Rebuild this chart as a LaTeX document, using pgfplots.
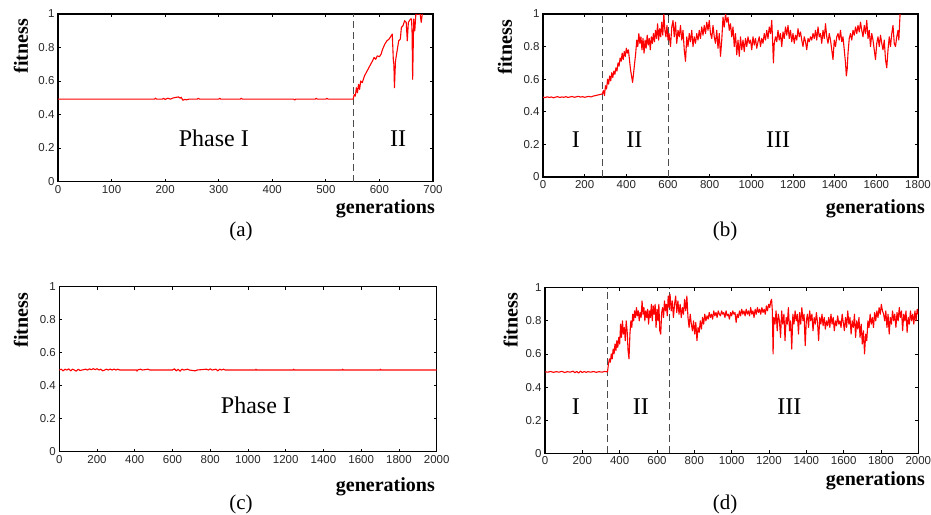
\documentclass[border=0pt]{standalone}
\usepackage{pgfplots}
\pgfplotsset{compat=1.18}
\usepackage{fontspec}
\setmainfont{Liberation Serif}
\newfontfamily\tickfont{Liberation Sans}
\pgfplotsset{panel/.style={
  scale only axis, xmin=0, ymin=0, ymax=1,
  ytick={0,0.2,0.4,0.6,0.8,1},
  yticklabels={0,0.2,0.4,0.6,0.8,1},
  axis line style={line width=1.5bp},
  tick style={black, line width=0.8bp},
  major tick length=3bp, tick align=inside,
  xtick pos=both, ytick pos=both,
  ticklabel style={font=\tickfont\fontsize{11.5bp}{13bp}\selectfont, text=black!85},
  /pgf/number format/assume math mode=true,
  /pgf/number format/1000 sep={},
  clip=true,
  },
  fit/.style={red, line width=1.1bp, line join=round},
  phase/.style={black!70, line width=0.8bp, dash pattern=on 7bp off 4bp},
}
\newcommand{\lab}{\fontsize{20bp}{24bp}\selectfont\bfseries}
\newcommand{\capt}{\fontsize{21bp}{25bp}\selectfont}
\newcommand{\ph}{\fontsize{24bp}{28bp}\selectfont}
\begin{document}
\begin{tikzpicture}
\useasboundingbox (0,0) rectangle (931bp,-515bp);
% ---------- (a)
\begin{axis}[panel, at={(58bp,-181.5bp)}, anchor=south west, width=375bp, height=167.5bp,
  xmax=700, xtick={0,100,...,700}]
\addplot[phase] coordinates {(551,0) (551,1)};
\addplot[fit] coordinates {
(0,0.492)(180,0.492)(182,0.498)(184,0.492)(195,0.492)(197,0.497)(200,0.49)(205,0.497)(210,0.492)
(215,0.499)(220,0.502)(225,0.505)(228,0.498)(230,0.503)(233,0.485)(236,0.49)(240,0.488)(245,0.492)
(260,0.492)(262,0.497)(264,0.492)(300,0.492)(302,0.497)(304,0.492)(340,0.492)(342,0.497)(344,0.492)
(440,0.492)(442,0.487)(444,0.492)(480,0.492)(482,0.497)(484,0.492)(500,0.492)(502,0.497)(504,0.492)
(551,0.492)(553,0.52)(555,0.51)(557,0.56)(559,0.53)(561,0.58)(563,0.55)(565,0.6)(568,0.59)(572,0.63)
(577,0.66)(582,0.69)(587,0.72)(590,0.74)(593,0.73)(596,0.75)(600,0.745)(603,0.76)(606,0.79)(610,0.82)
(614,0.84)(618,0.85)(622,0.87)(624,0.88)(626,0.72)(627,0.70)(628,0.56)(630,0.72)(633,0.78)(636,0.84)
(639,0.85)(641,0.92)(644,0.93)(647,0.96)(650,0.95)(652,0.84)(654,0.95)(656,0.96)(658,0.97)(660,0.97)
(661,0.88)(662,0.61)(664,0.97)(666,0.90)(668,1.0)(672,1.0)(676,1.0)(678,0.95)(680,1.0)};
\node[font=\ph] at (axis cs:291,0.256) {Phase I};
\node[font=\ph] at (axis cs:635,0.256) {II};
\end{axis}
\node[rotate=90, font=\lab] at (21bp,-46bp) {fitness};
\node[anchor=base east, font=\lab, inner sep=0pt] at (435bp,-213bp) {generations};
\node[anchor=base, font=\capt, inner sep=0pt] at (241bp,-236bp) {(a)};
% ---------- (b)
\begin{axis}[panel, at={(543bp,-177bp)}, anchor=south west, width=375bp, height=163bp,
  xmax=1800, xtick={0,200,...,1800}]
\addplot[phase] coordinates {(285,0) (285,1)};
\addplot[phase] coordinates {(600,0) (600,1)};
\addplot[fit] coordinates {
(0,0.49)(10,0.487)(20,0.492)(30,0.488)(40,0.491)(50,0.486)(60,0.49)(70,0.493)(80,0.488)(90,0.491)
(100,0.489)(110,0.493)(120,0.488)(130,0.491)(140,0.494)(150,0.489)(160,0.492)(170,0.495)(180,0.49)
(190,0.493)(200,0.489)(210,0.492)(220,0.495)(230,0.491)(240,0.496)(250,0.499)(260,0.502)(270,0.505)
(280,0.508)(285,0.51)
(290,0.53)(295,0.5)(300,0.56)(305,0.54)(310,0.6)(315,0.57)(320,0.62)(325,0.59)(330,0.64)(335,0.61)
(340,0.65)(345,0.63)(350,0.67)(355,0.65)(360,0.7)(365,0.68)(370,0.73)(375,0.71)(380,0.76)(385,0.72)
(390,0.77)(395,0.74)(400,0.79)(405,0.76)(410,0.78)(415,0.72)(420,0.66)(425,0.62)(430,0.58)(435,0.64)
(440,0.7)(445,0.76)(450,0.84)(455,0.8)(460,0.88)(465,0.82)(470,0.86)(475,0.78)(480,0.85)(485,0.76)
(490,0.84)(495,0.79)(500,0.87)(505,0.81)(510,0.85)(515,0.78)(520,0.86)(525,0.82)(530,0.88)(535,0.83)
(540,0.9)(545,0.85)(550,0.94)(555,0.84)(560,0.91)(565,0.86)(570,0.95)(575,0.87)(580,1.0)(585,0.9)
(590,0.86)(595,0.93)(600,0.84)
(605,0.88)(612,0.8)(618,0.92)(624,0.96)(630,0.86)(636,0.95)(642,0.82)(648,0.9)(654,0.86)(660,0.93)
(666,0.84)(672,0.9)(678,0.78)(684,0.71)(690,0.86)(696,0.8)(702,0.88)(708,0.83)(714,0.9)(720,0.8)
(726,0.86)(732,0.82)(738,0.88)(744,0.84)(750,0.9)(756,0.85)(762,0.92)(768,0.87)(774,0.93)(780,0.88)
(786,0.95)(792,0.9)(798,0.96)(804,0.88)(810,0.85)(816,0.93)(822,0.86)(828,0.82)(834,0.9)(840,0.79)
(846,0.88)(852,0.74)(858,0.84)(864,0.98)(870,0.92)(876,1.0)(882,0.95)(888,0.98)(894,0.9)(900,0.94)
(906,0.86)(912,0.92)(918,0.8)(924,0.88)(930,0.75)(936,0.84)(942,0.74)(948,0.86)(954,0.78)(960,0.84)
(966,0.77)(972,0.85)(978,0.8)(984,0.86)(990,0.82)(996,0.84)(1002,0.78)(1008,0.86)(1014,0.81)(1020,0.85)
(1026,0.79)(1032,0.83)(1038,0.86)(1044,0.8)(1050,0.85)(1056,0.82)(1062,0.88)(1068,0.84)(1074,0.9)
(1080,0.85)(1086,0.92)(1092,0.88)(1098,0.96)(1102,0.84)(1106,0.7)(1110,0.82)(1116,0.86)(1122,0.83)
(1128,0.9)(1134,0.84)(1140,0.88)(1146,0.8)(1152,0.89)(1158,0.85)(1164,0.92)(1170,0.87)(1176,0.93)
(1182,0.85)(1188,0.9)(1194,0.83)(1200,0.88)(1206,0.82)(1212,0.87)(1218,0.84)(1224,0.91)(1230,0.86)
(1236,0.89)(1242,0.84)(1248,0.8)(1254,0.86)(1260,0.83)(1266,0.78)(1272,0.85)(1278,0.83)(1284,0.86)
(1290,0.84)(1296,0.88)(1302,0.85)(1308,0.9)(1314,0.84)(1320,0.92)(1326,0.86)(1332,0.88)(1338,0.82)
(1344,0.9)(1350,0.85)(1356,0.94)(1362,0.86)(1368,0.82)(1374,0.88)(1380,0.84)(1386,0.78)(1392,0.72)
(1398,0.84)(1404,0.8)(1410,0.86)(1416,0.88)(1422,0.84)(1428,0.9)(1434,0.83)(1440,0.86)(1446,0.78)
(1452,0.7)(1456,0.62)(1460,0.66)(1464,0.76)(1470,0.85)(1476,0.88)(1482,0.84)(1488,0.9)(1494,0.87)
(1500,0.92)(1506,0.88)(1512,0.93)(1518,0.89)(1524,0.95)(1530,0.9)(1536,0.86)(1542,0.93)(1548,0.88)
(1554,0.96)(1560,0.85)(1566,0.9)(1572,0.8)(1578,0.88)(1584,0.84)(1590,0.78)(1596,0.72)(1602,0.82)
(1608,0.86)(1614,0.8)(1620,0.87)(1626,0.82)(1632,0.78)(1638,0.84)(1644,0.72)(1650,0.67)(1656,0.78)
(1662,0.86)(1668,0.8)(1674,0.88)(1680,0.93)(1686,0.82)(1692,0.8)(1698,0.86)(1704,0.9)(1708,0.84)
(1712,0.95)(1714,1.0)};
\node[font=\ph] at (axis cs:158,0.227) {I};
\node[font=\ph] at (axis cs:438,0.227) {II};
\node[font=\ph] at (axis cs:1129,0.227) {III};
\end{axis}
\node[rotate=90, font=\lab] at (505bp,-47bp) {fitness};
\node[anchor=base east, font=\lab, inner sep=0pt] at (925bp,-213bp) {generations};
\node[anchor=base, font=\capt, inner sep=0pt] at (725bp,-236bp) {(b)};
% ---------- (c)
\begin{axis}[panel, at={(59.3bp,-451.7bp)}, anchor=south west, width=377.4bp, height=165bp,
  xmax=2000, xtick={0,200,...,2000}]
\addplot[fit] coordinates {
(0,0.495)(10,0.5)(20,0.49)(30,0.5)(40,0.495)(50,0.502)(60,0.49)(70,0.5)(80,0.495)(90,0.488)(100,0.5)
(110,0.492)(120,0.495)(140,0.5)(150,0.495)(160,0.502)(170,0.497)(180,0.503)(190,0.497)(200,0.503)
(210,0.495)(220,0.5)(230,0.49)(240,0.495)(250,0.5)(260,0.495)(270,0.501)(280,0.495)(290,0.501)
(300,0.495)(310,0.5)(320,0.495)(340,0.495)(410,0.495)(412,0.488)(414,0.495)(430,0.5)(440,0.495)
(470,0.5)(480,0.495)(600,0.495)(610,0.502)(620,0.49)(630,0.5)(640,0.488)(650,0.5)(660,0.495)
(680,0.5)(690,0.495)(720,0.49)(730,0.495)(780,0.5)(790,0.495)(800,0.502)(810,0.495)(830,0.5)
(840,0.49)(850,0.5)(860,0.495)(870,0.5)(880,0.495)(1040,0.495)(1042,0.5)(1044,0.495)(1240,0.495)
(1242,0.5)(1244,0.495)(1500,0.495)(1502,0.5)(1504,0.495)(1700,0.495)(1702,0.5)(1704,0.495)(2000,0.495)};
\node[font=\ph] at (axis cs:1042,0.279) {Phase I};
\end{axis}
\node[rotate=90, font=\lab] at (21bp,-320bp) {fitness};
\node[anchor=base east, font=\lab, inner sep=0pt] at (435bp,-491bp) {generations};
\node[anchor=base, font=\capt, inner sep=0pt] at (241bp,-509bp) {(c)};
% ---------- (d)
\begin{axis}[panel, at={(545bp,-453.3bp)}, anchor=south west, width=373.3bp, height=165.6bp,
  xmax=2000, xtick={0,200,...,2000}]
\addplot[phase] coordinates {(336,0) (336,1)};
\addplot[phase] coordinates {(664,0) (664,1)};
\addplot[fit] coordinates {
(0,0.492)(15,0.49)(30,0.494)(45,0.489)(60,0.493)(75,0.49)(90,0.495)(105,0.488)(120,0.493)(135,0.49)
(150,0.496)(160,0.487)(170,0.494)(180,0.485)(190,0.496)(200,0.488)(210,0.494)(220,0.489)(230,0.493)
(245,0.49)(260,0.494)(275,0.489)(290,0.493)(305,0.49)(320,0.494)(335,0.492)
(340,0.54)(345,0.57)(350,0.55)(355,0.6)(360,0.57)(365,0.63)(370,0.6)(375,0.66)(380,0.62)(385,0.68)
(390,0.64)(395,0.7)(400,0.66)(405,0.78)(410,0.7)(415,0.8)(420,0.72)(425,0.76)(430,0.68)(435,0.8)
(440,0.74)(445,0.62)(450,0.57)(455,0.72)(460,0.8)(465,0.76)(470,0.84)(475,0.8)(480,0.86)(485,0.82)
(490,0.88)(495,0.83)(500,0.86)(505,0.8)(510,0.85)(515,0.82)(520,0.92)(525,0.84)(530,0.88)(535,0.8)
(540,0.86)(545,0.82)(550,0.87)(555,0.78)(560,0.86)(565,0.82)(570,0.9)(575,0.8)(580,0.89)(585,0.84)
(590,0.9)(595,0.76)(600,0.87)(605,0.8)(610,0.9)(615,0.74)(620,0.72)(625,0.85)(630,0.88)(635,0.82)
(640,0.92)(645,0.86)(650,0.9)(655,0.83)(660,0.95)(665,0.88)
(670,0.96)(676,0.86)(682,0.92)(688,0.82)(694,0.9)(700,0.95)(706,0.85)(712,0.92)(718,0.84)(724,0.9)
(730,0.82)(736,0.88)(742,0.84)(748,0.93)(754,0.86)(760,0.95)(766,0.82)(772,0.76)(778,0.84)(784,0.78)
(790,0.74)(796,0.8)(802,0.72)(808,0.79)(814,0.68)(820,0.76)(826,0.73)(832,0.8)(838,0.75)(844,0.82)
(850,0.78)(856,0.84)(862,0.8)(868,0.83)(874,0.81)(880,0.85)(886,0.82)(892,0.84)(898,0.81)(904,0.86)
(910,0.83)(916,0.85)(922,0.82)(928,0.86)(934,0.84)(940,0.83)(946,0.86)(952,0.84)(958,0.85)(964,0.82)
(970,0.86)(976,0.83)(982,0.84)(988,0.81)(994,0.85)(1000,0.83)(1006,0.86)(1012,0.84)(1018,0.85)
(1024,0.79)(1030,0.84)(1036,0.82)(1042,0.86)(1048,0.83)(1054,0.87)(1060,0.84)(1066,0.86)(1072,0.83)
(1078,0.87)(1084,0.84)(1090,0.86)(1096,0.83)(1102,0.88)(1108,0.84)(1114,0.86)(1120,0.82)(1126,0.87)
(1132,0.84)(1138,0.88)(1144,0.85)(1150,0.87)(1156,0.84)(1162,0.88)(1168,0.85)(1174,0.87)(1180,0.84)
(1186,0.89)(1192,0.86)(1198,0.9)(1204,0.88)(1210,0.92)(1214,0.93)(1218,0.86)(1222,0.6)(1226,0.82)
(1232,0.78)(1238,0.86)(1244,0.74)(1250,0.84)(1256,0.8)(1262,0.7)(1268,0.86)(1274,0.78)(1280,0.84)
(1286,0.68)(1292,0.82)(1298,0.78)(1304,0.88)(1310,0.74)(1316,0.8)(1322,0.63)(1328,0.84)(1334,0.78)
(1340,0.86)(1346,0.8)(1352,0.84)(1358,0.72)(1364,0.85)(1370,0.78)(1376,0.88)(1382,0.8)(1388,0.84)
(1394,0.65)(1400,0.8)(1406,0.84)(1412,0.76)(1418,0.86)(1424,0.8)(1430,0.84)(1436,0.74)(1442,0.82)
(1448,0.78)(1454,0.85)(1460,0.79)(1466,0.68)(1472,0.82)(1478,0.78)(1484,0.84)(1490,0.77)(1496,0.82)
(1502,0.75)(1508,0.8)(1514,0.77)(1520,0.82)(1526,0.76)(1532,0.84)(1538,0.78)(1544,0.82)(1550,0.74)
(1556,0.8)(1562,0.77)(1568,0.83)(1574,0.78)(1580,0.8)(1586,0.76)(1592,0.84)(1598,0.79)(1604,0.74)
(1610,0.82)(1616,0.76)(1622,0.86)(1628,0.78)(1634,0.82)(1640,0.72)(1646,0.8)(1652,0.76)(1658,0.84)
(1664,0.7)(1670,0.8)(1676,0.75)(1682,0.82)(1688,0.7)(1694,0.78)(1700,0.66)(1706,0.74)(1712,0.6)
(1718,0.72)(1724,0.68)(1730,0.8)(1736,0.76)(1742,0.84)(1748,0.78)(1754,0.82)(1760,0.76)(1766,0.85)
(1772,0.8)(1778,0.86)(1784,0.82)(1790,0.88)(1796,0.84)(1802,0.9)(1808,0.86)(1814,0.84)(1820,0.8)
(1826,0.86)(1832,0.76)(1838,0.84)(1844,0.72)(1850,0.82)(1856,0.78)(1862,0.86)(1868,0.8)(1874,0.84)
(1880,0.76)(1886,0.85)(1892,0.8)(1898,0.88)(1904,0.82)(1910,0.86)(1916,0.74)(1922,0.84)(1928,0.8)
(1934,0.86)(1940,0.73)(1946,0.82)(1952,0.78)(1958,0.86)(1964,0.8)(1970,0.84)(1976,0.78)(1982,0.86)
(1988,0.8)(1994,0.87)(2000,0.84)};
\node[font=\ph] at (axis cs:166,0.28) {I};
\node[font=\ph] at (axis cs:513,0.28) {II};
\node[font=\ph] at (axis cs:1309,0.28) {III};
\end{axis}
\node[rotate=90, font=\lab] at (510.7bp,-320bp) {fitness};
\node[anchor=base east, font=\lab, inner sep=0pt] at (925bp,-485bp) {generations};
\node[anchor=base, font=\capt, inner sep=0pt] at (725bp,-509bp) {(d)};
\end{tikzpicture}
\end{document}
